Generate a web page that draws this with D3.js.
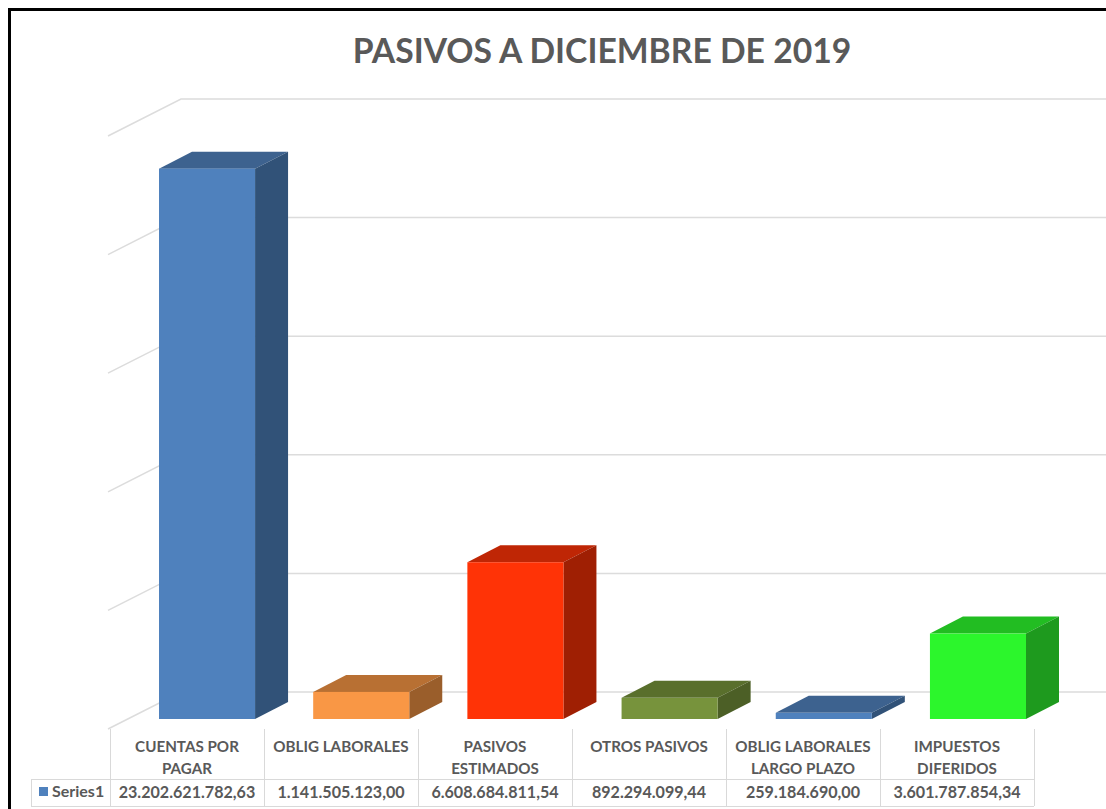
<!DOCTYPE html>
<html lang="es">
<head>
<meta charset="utf-8">
<title>Pasivos a diciembre de 2019</title>
<script src="https://cdn.jsdelivr.net/npm/d3@7"></script>
<style>
  html, body { margin: 0; padding: 0; background: #fff; overflow: hidden; }
  svg { display: block; font-family: Lato, "Open Sans", sans-serif; }
</style>
</head>
<body>
<svg id="chart" width="1106" height="809"></svg>
<script>
const chartTitle = "PASIVOS A DICIEMBRE DE 2019";
const seriesName = "Series1";
const categories = [
  ["CUENTAS POR", "PAGAR"],
  ["OBLIG LABORALES"],
  ["PASIVOS", "ESTIMADOS"],
  ["OTROS PASIVOS"],
  ["OBLIG LABORALES", "LARGO PLAZO"],
  ["IMPUESTOS", "DIFERIDOS"]
];
const values = [23202621782.63, 1141505123.00, 6608684811.54, 892294099.44, 259184690.00, 3601787854.34];
const frontColors = ["#4f81bd", "#f99745", "#ff3306", "#77933c", "#4f81bd", "#2cf62c"];
const topColors   = ["#3d628f", "#b87033", "#bf2605", "#596f2c", "#3d628f", "#22bd22"];
const sideColors  = ["#315278", "#9a5e2b", "#9f1f03", "#4c5f26", "#315278", "#1e9a1e"];
const gridLevels = [0, 5e9, 10e9, 15e9, 20e9, 25e9];

// Spanish number style: dots for thousands, comma for decimals.
const formatValue = d3.formatLocale({ decimal: ",", thousands: ".", grouping: [3], currency: ["", ""] }).format(",.2f");

const svg = d3.select("#chart");
const ink = "#595959";
const gridInk = "#dcdcdc";
const tableInk = "#d9d9d9";

// Outer frame: only the top and left edges fall inside the canvas.
svg.append("path")
  .attr("d", "M9.5,809V9.5H1106")
  .attr("fill", "none").attr("stroke", "#000").attr("stroke-width", 3);

svg.append("text")
  .attr("x", 602).attr("y", 63)
  .attr("text-anchor", "middle")
  .attr("font-size", 33.7).attr("font-weight", 700)
  .attr("fill", ink)
  .text(chartTitle);

// Value scale measured on the front plane of the bars.
const baseY = 719;
const y = d3.scaleLinear().domain([0, 25e9]).range([baseY, baseY - 593]);

// Bar positions along the front plane.
const x = d3.scaleBand()
  .domain(d3.range(values.length))
  .range([159, 1026])
  .paddingInner(0.377)
  .paddingOuter(0);

// Offset of each bar's rear face, and of the back wall.
const barDepth = { dx: 33, dy: -17 };
const wall = { x: 181, dy: -27, leftX: 108, leftDy: 9 };

// Gridlines: a diagonal on the side wall joined to a level run along the back wall.
const grid = svg.append("g").attr("fill", "none").attr("stroke", gridInk).attr("stroke-width", 1.5);
gridLevels.forEach(level => {
  const g = d3.path();
  const wy = y(level) + wall.dy;
  g.moveTo(wall.leftX, wy + 36 + 1);
  g.lineTo(wall.x, wy);
  g.lineTo(1106, wy);
  grid.append("path").attr("d", g.toString());
});

// Each bar is three faces: top, side, front.
const bars = svg.append("g").selectAll("g").data(values).join("g");

const face = pts => d3.line()(pts) + "Z";

bars.append("path")
  .attr("fill", (d, i) => topColors[i])
  .attr("d", (d, i) => {
    const x0 = x(i), x1 = x0 + x.bandwidth(), t = y(d);
    return face([[x0, t], [x1, t], [x1 + barDepth.dx, t + barDepth.dy], [x0 + barDepth.dx, t + barDepth.dy]]);
  });

bars.append("path")
  .attr("fill", (d, i) => sideColors[i])
  .attr("d", (d, i) => {
    const x1 = x(i) + x.bandwidth(), t = y(d);
    return face([[x1, t], [x1 + barDepth.dx, t + barDepth.dy], [x1 + barDepth.dx, baseY + barDepth.dy], [x1, baseY]]);
  });

bars.append("rect")
  .attr("fill", (d, i) => frontColors[i])
  .attr("x", (d, i) => x(i))
  .attr("y", d => y(d))
  .attr("width", x.bandwidth())
  .attr("height", d => baseY - y(d));

// Data table under the plot.
const col = d3.scaleBand().domain(d3.range(values.length)).range([110, 1034]);
const rowTop = 729, rowMid = 779, rowBottom = 806, legendLeft = 31;

const table = svg.append("g").attr("stroke", tableInk).attr("stroke-width", 1).attr("fill", "none");
d3.range(values.length + 1).forEach(i => {
  const cx = Math.round(110 + i * col.step()) + 0.5;
  table.append("line").attr("x1", cx).attr("x2", cx).attr("y1", rowTop).attr("y2", rowBottom);
});
table.append("line").attr("x1", legendLeft).attr("x2", 1034).attr("y1", rowMid + 0.5).attr("y2", rowMid + 0.5);
table.append("line").attr("x1", legendLeft).attr("x2", 1034).attr("y1", rowBottom + 0.5).attr("y2", rowBottom + 0.5);
table.append("line").attr("x1", legendLeft + 0.5).attr("x2", legendLeft + 0.5).attr("y1", rowMid).attr("y2", rowBottom);

const labels = svg.append("g").attr("fill", ink).attr("font-weight", 700).attr("text-anchor", "middle");
categories.forEach((lines, i) => {
  const t = labels.append("text")
    .attr("x", col(i) + col.bandwidth() / 2)
    .attr("font-size", 15.2);
  lines.forEach((line, k) => {
    t.append("tspan")
      .attr("x", col(i) + col.bandwidth() / 2)
      .attr("y", 752 + k * 22)
      .text(line);
  });
});

values.forEach((v, i) => {
  labels.append("text")
    .attr("x", col(i) + col.bandwidth() / 2)
    .attr("y", 798)
    .attr("font-size", 16.1)
    .text(formatValue(v));
});

svg.append("rect")
  .attr("x", 39).attr("y", 787).attr("width", 9).attr("height", 9)
  .attr("fill", frontColors[0]);

svg.append("text")
  .attr("x", 52).attr("y", 797)
  .attr("font-size", 16).attr("font-weight", 700)
  .attr("fill", ink)
  .text(seriesName);
</script>
</body>
</html>
